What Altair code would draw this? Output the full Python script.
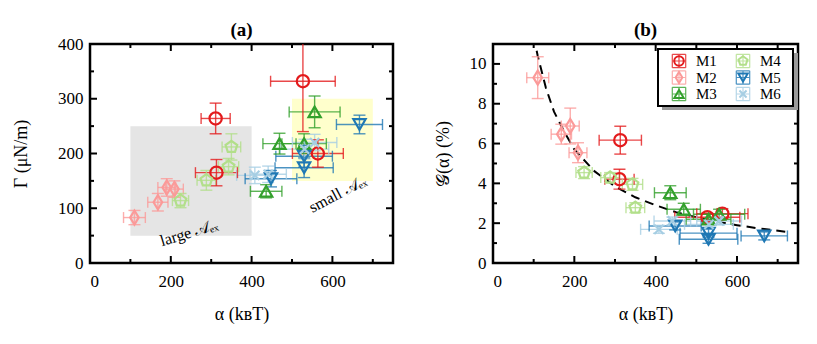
import altair as alt
import pandas as pd

SERIES = ["M1", "M2", "M3", "M4", "M5", "M6"]
COLORS = ["#e31a1c", "#fb9a99", "#33a02c", "#b2df8a", "#1f78b4", "#a6cee3"]
LEG_COL = [0, 0, 0, 1, 1, 1]
LEG_ROW = [0, 1, 2, 0, 1, 2]

# alpha (kBT), Gamma (uN/m), G (%) with symmetric errors
M1_alpha = [527, 311, 313, 564]
M1_alpha_err = [80, 36, 52, 63]
M1_gamma = [332, 264, 165, 200]
M1_gamma_err = [92, 28, 24, 25]
M1_g = [2.3, 4.21, 6.17, 2.48]
M1_g_err = [0.2, 0.5, 0.7, 0.25]

M2_alpha = [110, 168, 190, 209]
M2_alpha_err = [27, 25, 22, 22]
M2_gamma = [83, 111, 138, 135]
M2_gamma_err = [13, 16, 16, 15]
M2_g = [9.31, 6.47, 6.88, 5.54]
M2_g_err = [1.05, 0.5, 0.9, 0.5]

M3_alpha = [436, 469, 530, 556]
M3_alpha_err = [39, 41, 55, 63]
M3_gamma = [131, 218, 218, 276]
M3_gamma_err = [12, 19, 18, 29]
M3_g = [3.53, 2.7, 2.2, 2.45]
M3_g_err = [0.35, 0.3, 0.25, 0.25]

M4_alpha = [224, 288, 343, 350]
M4_alpha_err = [20, 23, 25, 23]
M4_gamma = [114, 151, 176, 212]
M4_gamma_err = [13, 18, 15, 24]
M4_g = [4.54, 4.29, 3.95, 2.78]
M4_g_err = [0.3, 0.25, 0.3, 0.25]

M5_alpha = [448, 530, 530, 667]
M5_alpha_err = [64, 72, 70, 57]
M5_gamma = [154, 174, 195, 253]
M5_gamma_err = [15, 18, 20, 17]
M5_g = [1.86, 1.19, 1.5, 1.36]
M5_g_err = [0.2, 0.2, 0.2, 0.2]

M6_alpha = [408, 441, 531, 556]
M6_alpha_err = [45, 45, 60, 55]
M6_gamma = [160, 162, 208, 220]
M6_gamma_err = [15, 15, 18, 15]
M6_g = [1.69, 2.11, 1.94, 2.11]
M6_g_err = [0.2, 0.2, 0.2, 0.2]

# dashed fit curve
FIT_ALPHA = [100, 110, 130, 150, 175, 200, 250, 300, 350, 400, 450, 500, 550, 600, 650, 720]
FIT_G = [11.4, 10.4, 8.8, 7.6, 6.6, 5.7, 4.6, 3.85, 3.3, 2.9, 2.55, 2.3, 2.07, 1.9, 1.75, 1.57]

# shaded regions in panel (a): alpha range, gamma range
LARGE_BOX = [100, 400, 50, 250]
SMALL_BOX = [500, 700, 150, 300]

X_MAJOR = [0, 200, 400, 600]
X_MINOR = [100, 300, 500, 700]
YA_MAJOR = [0, 100, 200, 300, 400]
YA_MINOR = [50, 150, 250, 350]
YB_MAJOR = [0, 2, 4, 6, 8, 10]
YB_MINOR = [1, 3, 5, 7, 9, 11]

PENTAGON = "M0,-1L0.951,-0.309L0.588,0.809L-0.588,0.809L-0.951,-0.309Z"
DIAMOND = "M0,-1.15L0.7,0L0,1.15L-0.7,0Z"
XSHAPE = "M-0.75,-0.75L0.75,0.75M-0.75,0.75L0.75,-0.75"
ERRICON = "M-1,-1L1,-1M-1,1L1,1M-1,-1L-1,1M1,-1L1,1M-1,0L1,0M0,-1L0,1"
SHAPES = {"M1": "circle", "M2": DIAMOND, "M3": "triangle-up",
          "M4": PENTAGON, "M5": "triangle-down", "M6": XSHAPE}

FONT = "Liberation Serif"

rows = []
tables = [
    ("M1", M1_alpha, M1_alpha_err, M1_gamma, M1_gamma_err, M1_g, M1_g_err),
    ("M2", M2_alpha, M2_alpha_err, M2_gamma, M2_gamma_err, M2_g, M2_g_err),
    ("M3", M3_alpha, M3_alpha_err, M3_gamma, M3_gamma_err, M3_g, M3_g_err),
    ("M4", M4_alpha, M4_alpha_err, M4_gamma, M4_gamma_err, M4_g, M4_g_err),
    ("M5", M5_alpha, M5_alpha_err, M5_gamma, M5_gamma_err, M5_g, M5_g_err),
    ("M6", M6_alpha, M6_alpha_err, M6_gamma, M6_gamma_err, M6_g, M6_g_err),
]
for s, a, ae, g, ge, G, Ge in tables:
    for i in range(len(a)):
        rows.append(dict(series=s, alpha=a[i], alo=a[i] - ae[i], ahi=a[i] + ae[i],
                         gamma=g[i], gmlo=g[i] - ge[i], gmhi=g[i] + ge[i],
                         G=G[i], Glo=G[i] - Ge[i], Ghi=G[i] + Ge[i]))
df = pd.DataFrame(rows)

H = 219
XS = alt.Scale(domain=[0, 750], nice=False, zero=False)
CSCALE = alt.Scale(domain=SERIES, range=COLORS)
SSCALE = alt.Scale(domain=SERIES, range=[SHAPES[s] for s in SERIES])

XAXIS = alt.Axis(values=X_MAJOR, title="α (kʙT)", domain=False, ticks=False, grid=False,
                 labelFontSize=17, labelPadding=10, titlePadding=16, titleFontSize=18,
                 labelFont=FONT, titleFont=FONT, titleFontWeight="normal", labelColor="black",
                 titleColor="black", format="d")


def col():
    return alt.Color("series:N", scale=CSCALE, legend=None)


def X(field):
    return alt.X(f"{field}:Q", scale=XS, axis=XAXIS)


def frame_ticks(ymaj, ymin, ys, yaxis, W):
    layers = []
    for vals, L in ((X_MAJOR, 7), (X_MINOR, 4)):
        base = alt.Chart(pd.DataFrame({"v": vals}))
        layers.append(base.mark_rule(color="black", strokeWidth=2).encode(
            x=X("v"), y=alt.value(H), y2=alt.value(H - L)))
        layers.append(base.mark_rule(color="black", strokeWidth=2).encode(
            x=X("v"), y=alt.value(0), y2=alt.value(L)))
    for vals, L in ((ymaj, 7), (ymin, 4)):
        base = alt.Chart(pd.DataFrame({"v": vals}))
        layers.append(base.mark_rule(color="black", strokeWidth=2).encode(
            y=alt.Y("v:Q", scale=ys, axis=yaxis), x=alt.value(0), x2=alt.value(L)))
        layers.append(base.mark_rule(color="black", strokeWidth=2).encode(
            y=alt.Y("v:Q", scale=ys, axis=yaxis), x=alt.value(W), x2=alt.value(W - L)))
    return layers


def data_layers(ycol, ylo, yhi, ys, yaxis):
    base = alt.Chart(df)

    def Y(field):
        return alt.Y(f"{field}:Q", scale=ys, axis=yaxis)

    ebx = base.mark_rule(strokeWidth=1.4, opacity=0.8, clip=True).encode(
        x=X("alo"), x2="ahi:Q", y=Y(ycol), color=col())
    capx1 = base.mark_tick(orient="vertical", size=11, thickness=1.4, opacity=0.8, clip=True).encode(
        x=X("alo"), y=Y(ycol), color=col())
    capx2 = base.mark_tick(orient="vertical", size=11, thickness=1.4, opacity=0.8, clip=True).encode(
        x=X("ahi"), y=Y(ycol), color=col())
    eby = base.mark_rule(strokeWidth=1.4, opacity=0.8, clip=True).encode(
        x=X("alpha"), y=Y(ylo), y2=f"{yhi}:Q", color=col())
    capy1 = base.mark_tick(orient="horizontal", size=12, thickness=1.4, opacity=0.8, clip=True).encode(
        x=X("alpha"), y=Y(ylo), color=col())
    capy2 = base.mark_tick(orient="horizontal", size=12, thickness=1.4, opacity=0.8, clip=True).encode(
        x=X("alpha"), y=Y(yhi), color=col())
    pts = base.mark_point(filled=False, strokeWidth=2.2, size=150, opacity=1).encode(
        x=X("alpha"), y=Y(ycol),
        color=col(),
        shape=alt.Shape("series:N", scale=SSCALE, legend=None))
    return [ebx, capx1, capx2, eby, capy1, capy2, pts]


def panel_title(t, dy):
    return alt.TitleParams(t, font=FONT, fontSize=19, fontWeight="bold", offset=8,
                           color="black", frame="group", dy=dy)


# ---------- panel (a)
WA = 303
YSA = alt.Scale(domain=[0, 400], nice=False)
YAXIS_A = alt.Axis(values=YA_MAJOR, title="Γ (μN/m)", domain=False, ticks=False, grid=False,
                   labelFontSize=17, labelPadding=7, titlePadding=8, titleFontSize=18,
                   labelFont=FONT, titleFont=FONT, titleFontWeight="normal", labelColor="black",
                   titleColor="black", minExtent=52, maxExtent=52)
large = alt.Chart(pd.DataFrame({"x": [LARGE_BOX[0]], "x2": [LARGE_BOX[1]],
                                "y": [LARGE_BOX[2]], "y2": [LARGE_BOX[3]]})).mark_rect(color="#e5e5e5").encode(
    x=X("x"), x2="x2:Q", y=alt.Y("y:Q", scale=YSA, axis=YAXIS_A), y2="y2:Q")
small = alt.Chart(pd.DataFrame({"x": [SMALL_BOX[0]], "x2": [SMALL_BOX[1]],
                                "y": [SMALL_BOX[2]], "y2": [SMALL_BOX[3]]})).mark_rect(color="#ffffcc").encode(
    x=X("x"), x2="x2:Q", y=alt.Y("y:Q", scale=YSA, axis=YAXIS_A), y2="y2:Q")
ANN_ALPHA = [245, 613]
ANN_GAMMA = [55, 126]
ANN_TEXT = ["large 𝒜ₑₓ", "small 𝒜ₑₓ"]
ann1 = alt.Chart(pd.DataFrame({"a": [ANN_ALPHA[0]], "g": [ANN_GAMMA[0]], "t": [ANN_TEXT[0]]})).mark_text(
    font=FONT, fontSize=16, angle=343, color="black").encode(
    x=X("a"), y=alt.Y("g:Q", scale=YSA, axis=YAXIS_A), text="t:N")
ann2 = alt.Chart(pd.DataFrame({"a": [ANN_ALPHA[1]], "g": [ANN_GAMMA[1]], "t": [ANN_TEXT[1]]})).mark_text(
    font=FONT, fontSize=16, angle=332, color="black").encode(
    x=X("a"), y=alt.Y("g:Q", scale=YSA, axis=YAXIS_A), text="t:N")

layers_a = [large, small, ann1, ann2] + data_layers("gamma", "gmlo", "gmhi", YSA, YAXIS_A) + \
    frame_ticks(YA_MAJOR, YA_MINOR, YSA, YAXIS_A, WA)
panel_a = alt.layer(*layers_a).properties(width=WA, height=H, title=panel_title("(a)", 13))

# ---------- panel (b)
WB = 305
YSB = alt.Scale(domain=[0, 11], nice=False)
YAXIS_B = alt.Axis(values=YB_MAJOR, title="𝒢(α) (%)", domain=False, ticks=False, grid=False,
                   labelFontSize=17, labelPadding=7, titlePadding=16, titleFontSize=18,
                   labelFont=FONT, titleFont=FONT, titleFontWeight="normal", labelColor="black",
                   titleColor="black", minExtent=25, maxExtent=25)
fit = pd.DataFrame({"alpha": FIT_ALPHA, "G": FIT_G})
fit_layer = alt.Chart(fit).mark_line(color="black", strokeWidth=2, strokeDash=[9, 6], clip=True).encode(
    x=X("alpha"), y=alt.Y("G:Q", scale=YSB, axis=YAXIS_B))

main_b = alt.layer(*([fit_layer] + data_layers("G", "Glo", "Ghi", YSB, YAXIS_B) +
                     frame_ticks(YB_MAJOR, YB_MINOR, YSB, YAXIS_B, WB)))

# hand-built legend (two columns, three rows) in the top-right corner of panel (b)
one = alt.Data(values=[{"a": 1}])
shadow = alt.Chart(one).mark_rect(color="#9a9a9a").encode(
    x=alt.value(169), x2=alt.value(305), y=alt.value(9), y2=alt.value(66))
box = alt.Chart(one).mark_rect(fill="white", stroke="black", strokeWidth=2).encode(
    x=alt.value(165), x2=alt.value(300), y=alt.value(5), y2=alt.value(62))
leg_df = pd.DataFrame({"series": SERIES, "col": LEG_COL, "row": LEG_ROW})
LX = alt.Scale(domain=[0, 1], range=[186, 250])
LY = alt.Scale(domain=[0, 2], range=[17, 50])
leg_base = alt.Chart(leg_df)
leg_icon = leg_base.mark_point(filled=False, strokeWidth=1.2, size=180, opacity=0.8, shape=ERRICON).encode(
    x=alt.X("col:Q", scale=LX, axis=None), y=alt.Y("row:Q", scale=LY, axis=None), color=col())
leg_pts = leg_base.mark_point(filled=False, strokeWidth=2, size=90, opacity=1).encode(
    x=alt.X("col:Q", scale=LX, axis=None), y=alt.Y("row:Q", scale=LY, axis=None), color=col(),
    shape=alt.Shape("series:N", scale=SSCALE, legend=None))
leg_txt = leg_base.mark_text(align="left", baseline="middle", dx=17, font=FONT, fontSize=15,
                             color="black").encode(
    x=alt.X("col:Q", scale=LX, axis=None), y=alt.Y("row:Q", scale=LY, axis=None), text="series:N")
legend_layer = alt.layer(shadow, box, leg_icon, leg_pts, leg_txt)

panel_b = alt.layer(main_b, legend_layer).resolve_scale(x="independent", y="independent").properties(
    width=WB, height=H, title=panel_title("(b)", 5))

chart = alt.hconcat(panel_a, panel_b, spacing=36).properties(
    padding={"left": 2, "top": 11, "right": 5, "bottom": 5}
).configure_view(stroke="black", strokeWidth=2.5).resolve_scale(x="independent", y="independent")

chart.save("out.html", embed_options={"renderer": "svg", "actions": False})
